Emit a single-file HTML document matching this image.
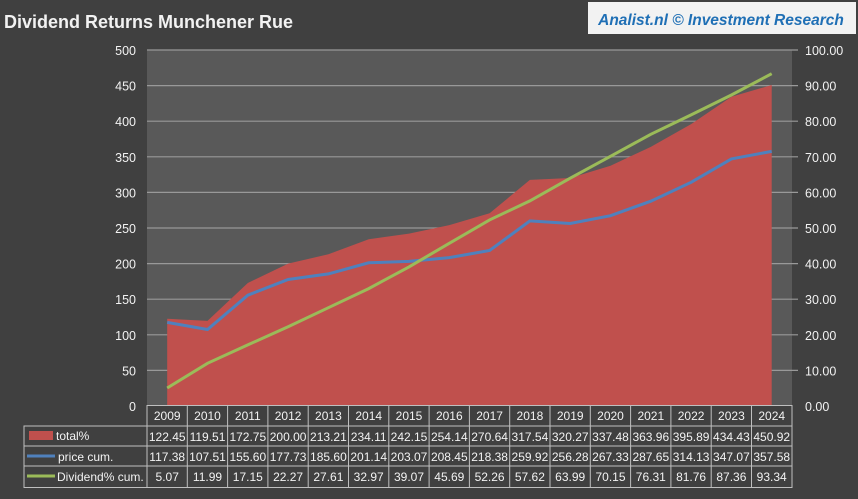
<!DOCTYPE html>
<html><head><meta charset="utf-8"><style>
html,body{margin:0;padding:0;background:#404040;}
svg{display:block;font-family:"Liberation Sans",sans-serif;}
</style></head><body>
<svg width="858" height="499" viewBox="0 0 858 499" xmlns="http://www.w3.org/2000/svg">
<rect width="858" height="499" fill="#404040"/>
<text x="4" y="28" font-size="18" font-weight="bold" fill="#f2f2f2">Dividend Returns Munchener Rue</text>
<rect x="588" y="2" width="268" height="32" fill="#f2f2f2"/>
<text x="721" y="25" text-anchor="middle" font-size="15.5" font-weight="bold" font-style="italic" fill="#1f6fb5">Analist.nl © Investment Research</text>
<rect x="147" y="50" width="645" height="356" fill="#595959"/>
<g stroke="#999" stroke-width="1.2">
<line x1="147" x2="798" y1="50" y2="50"/><line x1="147" x2="798" y1="85.6" y2="85.6"/>
<line x1="147" x2="798" y1="121.2" y2="121.2"/><line x1="147" x2="798" y1="156.8" y2="156.8"/>
<line x1="147" x2="798" y1="192.4" y2="192.4"/><line x1="147" x2="798" y1="228" y2="228"/>
<line x1="147" x2="798" y1="263.6" y2="263.6"/><line x1="147" x2="798" y1="299.2" y2="299.2"/>
<line x1="147" x2="798" y1="334.8" y2="334.8"/><line x1="147" x2="798" y1="370.4" y2="370.4"/>
</g>
<polygon fill="#c0504d" points="167.2,406 167.2,318.8 207.5,320.9 247.8,283.0 288.1,263.6 328.4,254.2 368.7,239.3 409.0,233.6 449.3,225.1 489.6,213.3 529.9,179.9 570.2,178.0 610.5,165.7 650.8,146.9 691.1,124.1 731.4,96.7 771.7,85.0 771.7,406"/>
<polyline fill="none" stroke="#4f81bd" stroke-width="3" points="167.2,322.4 207.5,329.5 247.8,295.2 288.1,279.5 328.4,273.9 368.7,262.8 409.0,261.4 449.3,257.6 489.6,250.5 529.9,220.9 570.2,223.5 610.5,215.7 650.8,201.2 691.1,182.3 731.4,158.9 771.7,151.4"/>
<polyline fill="none" stroke="#9bbb59" stroke-width="3" points="167.2,388.0 207.5,363.3 247.8,344.9 288.1,326.7 328.4,307.7 368.7,288.6 409.0,266.9 449.3,243.3 489.6,219.9 529.9,200.9 570.2,178.2 610.5,156.3 650.8,134.3 691.1,114.9 731.4,95.0 771.7,73.7"/>
<g font-size="12.5" fill="#f2f2f2" text-anchor="end">
<text x="136" y="55">500</text><text x="136" y="90.6">450</text><text x="136" y="126.2">400</text><text x="136" y="161.8">350</text><text x="136" y="197.4">300</text><text x="136" y="233">250</text><text x="136" y="268.6">200</text><text x="136" y="304.2">150</text><text x="136" y="339.8">100</text><text x="136" y="375.4">50</text><text x="136" y="411">0</text>
</g>
<g font-size="12.5" fill="#f2f2f2" text-anchor="start">
<text x="805" y="55">100.00</text><text x="805" y="90.6">90.00</text><text x="805" y="126.2">80.00</text><text x="805" y="161.8">70.00</text><text x="805" y="197.4">60.00</text><text x="805" y="233">50.00</text><text x="805" y="268.6">40.00</text><text x="805" y="304.2">30.00</text><text x="805" y="339.8">20.00</text><text x="805" y="375.4">10.00</text><text x="805" y="411">0.00</text>
</g>
<g stroke="#bfbfbf" stroke-width="1" fill="none">
<rect x="147" y="405.5" width="645" height="82"/>
<rect x="24" y="426" width="123" height="61.5"/>
<line x1="24" x2="792" y1="426" y2="426"/><line x1="24" x2="792" y1="446" y2="446"/><line x1="24" x2="792" y1="466" y2="466"/>
<path d="M187.3 405.5V487.5M227.6 405.5V487.5M267.9 405.5V487.5M308.2 405.5V487.5M348.5 405.5V487.5M388.8 405.5V487.5M429.1 405.5V487.5M469.4 405.5V487.5M509.7 405.5V487.5M550 405.5V487.5M590.3 405.5V487.5M630.6 405.5V487.5M670.9 405.5V487.5M711.2 405.5V487.5M751.5 405.5V487.5"/>
</g>
<rect x="29" y="431" width="24" height="9" fill="#c0504d"/>
<line x1="27" x2="55" y1="456" y2="456" stroke="#4f81bd" stroke-width="3"/>
<line x1="27" x2="55" y1="476" y2="476" stroke="#9bbb59" stroke-width="3"/>
<g font-size="12" fill="#f2f2f2">
<text x="56" y="440">total%</text><text x="58" y="461">price cum.</text><text x="57" y="481">Dividend% cum.</text>
</g>
<g font-size="12" fill="#f2f2f2" text-anchor="middle">
<text y="420"><tspan x="167.2">2009</tspan><tspan x="207.5">2010</tspan><tspan x="247.8">2011</tspan><tspan x="288.1">2012</tspan><tspan x="328.4">2013</tspan><tspan x="368.7">2014</tspan><tspan x="409.0">2015</tspan><tspan x="449.3">2016</tspan><tspan x="489.6">2017</tspan><tspan x="529.9">2018</tspan><tspan x="570.2">2019</tspan><tspan x="610.5">2020</tspan><tspan x="650.8">2021</tspan><tspan x="691.1">2022</tspan><tspan x="731.4">2023</tspan><tspan x="771.7">2024</tspan></text>
<text y="441"><tspan x="167.2">122.45</tspan><tspan x="207.5">119.51</tspan><tspan x="247.8">172.75</tspan><tspan x="288.1">200.00</tspan><tspan x="328.4">213.21</tspan><tspan x="368.7">234.11</tspan><tspan x="409.0">242.15</tspan><tspan x="449.3">254.14</tspan><tspan x="489.6">270.64</tspan><tspan x="529.9">317.54</tspan><tspan x="570.2">320.27</tspan><tspan x="610.5">337.48</tspan><tspan x="650.8">363.96</tspan><tspan x="691.1">395.89</tspan><tspan x="731.4">434.43</tspan><tspan x="771.7">450.92</tspan></text>
<text y="461"><tspan x="167.2">117.38</tspan><tspan x="207.5">107.51</tspan><tspan x="247.8">155.60</tspan><tspan x="288.1">177.73</tspan><tspan x="328.4">185.60</tspan><tspan x="368.7">201.14</tspan><tspan x="409.0">203.07</tspan><tspan x="449.3">208.45</tspan><tspan x="489.6">218.38</tspan><tspan x="529.9">259.92</tspan><tspan x="570.2">256.28</tspan><tspan x="610.5">267.33</tspan><tspan x="650.8">287.65</tspan><tspan x="691.1">314.13</tspan><tspan x="731.4">347.07</tspan><tspan x="771.7">357.58</tspan></text>
<text y="481"><tspan x="167.2">5.07</tspan><tspan x="207.5">11.99</tspan><tspan x="247.8">17.15</tspan><tspan x="288.1">22.27</tspan><tspan x="328.4">27.61</tspan><tspan x="368.7">32.97</tspan><tspan x="409.0">39.07</tspan><tspan x="449.3">45.69</tspan><tspan x="489.6">52.26</tspan><tspan x="529.9">57.62</tspan><tspan x="570.2">63.99</tspan><tspan x="610.5">70.15</tspan><tspan x="650.8">76.31</tspan><tspan x="691.1">81.76</tspan><tspan x="731.4">87.36</tspan><tspan x="771.7">93.34</tspan></text>
</g>
</svg>
</body></html>
